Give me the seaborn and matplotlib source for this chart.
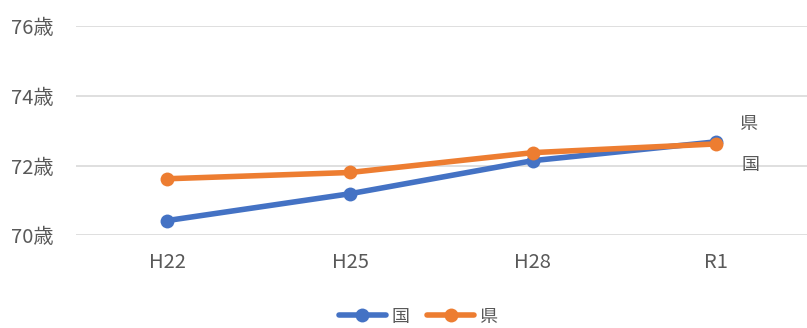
import matplotlib
matplotlib.use("Agg")
import matplotlib.pyplot as plt
import seaborn as sns
import pandas as pd

years = ["H22", "H25", "H28", "R1"]
kuni = [70.42, 71.19, 72.14, 72.68]
ken = [71.62, 71.80, 72.37, 72.62]
yticks = [70, 72, 74, 76]

sns.set_theme(style="white")
plt.rcParams["font.family"] = ["Noto Sans CJK JP", "DejaVu Sans"]

df = pd.DataFrame({
    "year": years * 2,
    "value": kuni + ken,
    "series": ["国"] * len(years) + ["県"] * len(years),
})

fig = plt.figure(figsize=(8.07, 3.28), dpi=100)
ax = fig.add_axes([0.094, 0.283, 0.906, 0.637])

palette = {"国": "#4472C4", "県": "#ED7D31"}
sns.lineplot(data=df, x="year", y="value", hue="series", palette=palette,
             marker="o", markersize=10, markeredgewidth=0, linewidth=4,
             sort=False, ax=ax, legend=True)

ax.set_xlim(-0.5, len(years) - 0.5)
ax.set_ylim(70, 76)
ax.set_yticks(yticks)
ax.set_yticklabels([f"{v}歳" for v in yticks])
ax.set_xlabel("")
ax.set_ylabel("")
ax.grid(axis="y", color="#d9d9d9", linewidth=1.2)
ax.set_axisbelow(True)
for s in ax.spines.values():
    s.set_visible(False)
ax.tick_params(axis="both", length=0, labelsize=14.5, labelcolor="#595959")
ax.tick_params(axis="x", pad=12)
ax.tick_params(axis="y", pad=16)

# series names next to the final points
last = len(years) - 1
ax.annotate("県", (last, ken[-1]), xytext=(17, 14), textcoords="offset points",
            fontsize=13, color="#595959", ha="left", va="center")
ax.annotate("国", (last, kuni[-1]), xytext=(19, -17), textcoords="offset points",
            fontsize=13, color="#595959", ha="left", va="center")

leg = ax.legend(loc="center", bbox_to_anchor=(0.468, -0.39), ncol=2,
                frameon=False, fontsize=13, handlelength=2.6,
                columnspacing=1.0, handletextpad=0.3)
for t in leg.get_texts():
    t.set_color("#595959")

fig.savefig("out.png", dpi=100)
